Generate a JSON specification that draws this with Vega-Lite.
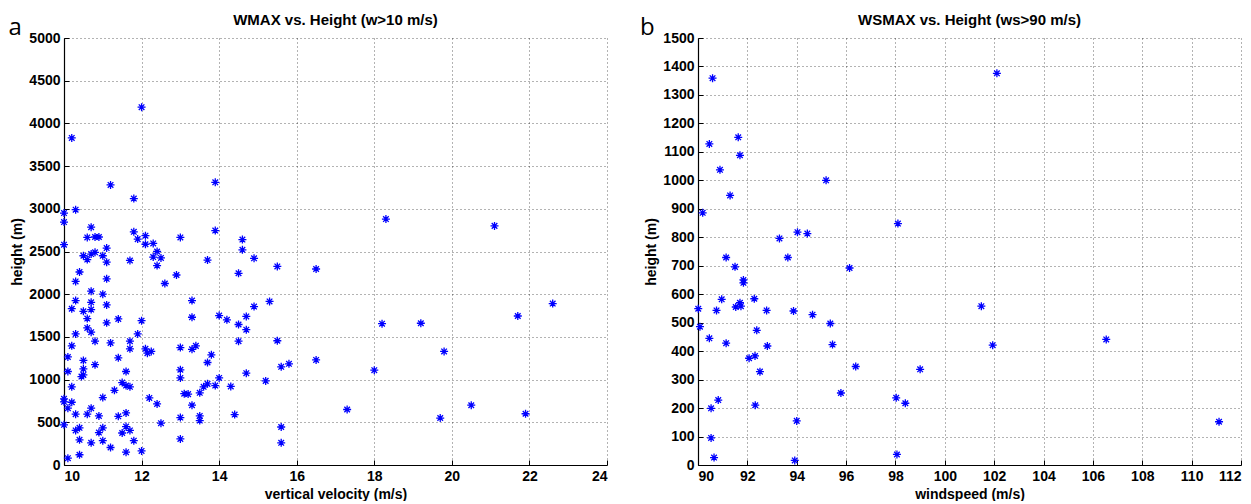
{
  "$schema": "https://vega.github.io/schema/vega-lite/v6.json",
  "background": "white",
  "padding": {"left": 8, "top": 12, "right": 2, "bottom": 0},
  "spacing": 32,
  "config": {
    "view": {"stroke": null},
    "font": "Liberation Sans",
    "axis": {
      "labelFont": "Liberation Sans",
      "labelFontWeight": "bold",
      "labelFontSize": 14,
      "labelColor": "#000",
      "labelOverlap": false,
      "format": "d",
      "titleFont": "Liberation Sans",
      "titleFontWeight": "bold",
      "titleFontSize": 14,
      "titleColor": "#000",
      "domainColor": "#000",
      "domainWidth": 1.2,
      "tickColor": "#000",
      "tickSize": -5,
      "tickCount": 30,
      "labelPadding": 9,
      "grid": true,
      "gridColor": "#000",
      "gridOpacity": 0.6,
      "gridDash": [1, 3],
      "gridWidth": 1
    },
    "title": {"font": "Liberation Sans", "fontSize": 15, "fontWeight": "bold", "color": "#000", "anchor": "middle", "offset": -12, "frame": "group"}
  },
  "datasets": {
    "wmax": [
      {"w": 12.0, "h": 4190}, {"w": 10.2, "h": 3830}, {"w": 11.2, "h": 3280}, {"w": 11.8, "h": 3120},
      {"w": 13.9, "h": 3310}, {"w": 10.3, "h": 2990}, {"w": 10.0, "h": 2950}, {"w": 10.0, "h": 2845},
      {"w": 10.7, "h": 2785}, {"w": 10.6, "h": 2665}, {"w": 10.8, "h": 2670}, {"w": 10.9, "h": 2670},
      {"w": 11.1, "h": 2540}, {"w": 10.5, "h": 2450}, {"w": 10.6, "h": 2405}, {"w": 10.7, "h": 2470},
      {"w": 10.8, "h": 2490}, {"w": 11.0, "h": 2450}, {"w": 11.1, "h": 2375}, {"w": 10.4, "h": 2260},
      {"w": 11.7, "h": 2395}, {"w": 11.8, "h": 2730}, {"w": 11.9, "h": 2645}, {"w": 12.1, "h": 2685},
      {"w": 12.1, "h": 2585}, {"w": 12.3, "h": 2595}, {"w": 12.4, "h": 2500}, {"w": 12.3, "h": 2435},
      {"w": 12.5, "h": 2425}, {"w": 12.4, "h": 2335}, {"w": 13.0, "h": 2665}, {"w": 12.9, "h": 2225},
      {"w": 13.9, "h": 2745}, {"w": 14.6, "h": 2640}, {"w": 14.6, "h": 2520}, {"w": 13.7, "h": 2400},
      {"w": 14.9, "h": 2420}, {"w": 15.5, "h": 2325}, {"w": 14.5, "h": 2245}, {"w": 16.5, "h": 2295},
      {"w": 13.3, "h": 1925}, {"w": 15.3, "h": 1915}, {"w": 14.9, "h": 1855}, {"w": 14.0, "h": 1750},
      {"w": 13.3, "h": 1730}, {"w": 14.7, "h": 1740}, {"w": 14.2, "h": 1700}, {"w": 14.5, "h": 1645},
      {"w": 14.7, "h": 1585}, {"w": 14.5, "h": 1450}, {"w": 15.5, "h": 1455}, {"w": 13.4, "h": 1395},
      {"w": 13.3, "h": 1355}, {"w": 13.8, "h": 1290}, {"w": 13.7, "h": 1200}, {"w": 15.6, "h": 1150},
      {"w": 15.8, "h": 1185}, {"w": 16.5, "h": 1230}, {"w": 14.7, "h": 1075}, {"w": 14.0, "h": 1020},
      {"w": 15.2, "h": 985}, {"w": 13.7, "h": 950}, {"w": 13.6, "h": 915}, {"w": 13.9, "h": 930},
      {"w": 14.3, "h": 920}, {"w": 13.5, "h": 845}, {"w": 13.2, "h": 830}, {"w": 13.3, "h": 700},
      {"w": 13.5, "h": 575}, {"w": 13.5, "h": 520}, {"w": 14.4, "h": 590}, {"w": 15.6, "h": 445},
      {"w": 15.6, "h": 260}, {"w": 18.3, "h": 2880}, {"w": 21.1, "h": 2800}, {"w": 18.2, "h": 1655},
      {"w": 19.2, "h": 1660}, {"w": 21.7, "h": 1745}, {"w": 22.6, "h": 1890}, {"w": 19.8, "h": 1330},
      {"w": 18.0, "h": 1110}, {"w": 17.3, "h": 650}, {"w": 19.7, "h": 550}, {"w": 20.5, "h": 700},
      {"w": 21.9, "h": 600}, {"w": 10.3, "h": 2150}, {"w": 11.1, "h": 2180}, {"w": 12.6, "h": 2125},
      {"w": 10.7, "h": 2035}, {"w": 11.0, "h": 2000}, {"w": 10.3, "h": 1925}, {"w": 10.7, "h": 1905},
      {"w": 11.1, "h": 1875}, {"w": 10.2, "h": 1830}, {"w": 10.5, "h": 1800}, {"w": 10.7, "h": 1820},
      {"w": 10.6, "h": 1715}, {"w": 11.1, "h": 1665}, {"w": 11.4, "h": 1710}, {"w": 12.0, "h": 1690},
      {"w": 10.6, "h": 1605}, {"w": 10.7, "h": 1555}, {"w": 10.3, "h": 1535}, {"w": 11.9, "h": 1535},
      {"w": 10.8, "h": 1450}, {"w": 11.2, "h": 1430}, {"w": 11.7, "h": 1450}, {"w": 11.7, "h": 1360},
      {"w": 10.2, "h": 1395}, {"w": 12.1, "h": 1360}, {"w": 12.15, "h": 1310}, {"w": 12.25, "h": 1330},
      {"w": 13.0, "h": 1375}, {"w": 10.1, "h": 1265}, {"w": 11.4, "h": 1255}, {"w": 10.5, "h": 1225},
      {"w": 10.5, "h": 1125}, {"w": 10.8, "h": 1175}, {"w": 10.1, "h": 1095}, {"w": 11.6, "h": 1095},
      {"w": 13.0, "h": 1115}, {"w": 10.5, "h": 1055}, {"w": 10.45, "h": 1035}, {"w": 13.0, "h": 1020},
      {"w": 10.2, "h": 915}, {"w": 11.5, "h": 965}, {"w": 11.6, "h": 930}, {"w": 11.7, "h": 915},
      {"w": 11.3, "h": 875}, {"w": 11.0, "h": 790}, {"w": 12.2, "h": 785}, {"w": 12.4, "h": 715},
      {"w": 13.1, "h": 835}, {"w": 10.0, "h": 775}, {"w": 10.0, "h": 740}, {"w": 10.2, "h": 735},
      {"w": 10.1, "h": 665}, {"w": 10.7, "h": 665}, {"w": 10.3, "h": 595}, {"w": 10.6, "h": 595},
      {"w": 10.9, "h": 575}, {"w": 11.4, "h": 570}, {"w": 11.6, "h": 610}, {"w": 13.0, "h": 555},
      {"w": 12.5, "h": 490}, {"w": 10.0, "h": 470}, {"w": 10.3, "h": 405}, {"w": 10.4, "h": 435},
      {"w": 10.9, "h": 380}, {"w": 11.0, "h": 435}, {"w": 11.5, "h": 375}, {"w": 11.6, "h": 450},
      {"w": 11.7, "h": 405}, {"w": 10.4, "h": 295}, {"w": 10.7, "h": 260}, {"w": 11.0, "h": 285},
      {"w": 11.8, "h": 285}, {"w": 11.2, "h": 205}, {"w": 11.6, "h": 150}, {"w": 12.0, "h": 165},
      {"w": 13.0, "h": 305}, {"w": 10.1, "h": 80}, {"w": 10.4, "h": 120}, {"w": 10.0, "h": 2580}
    ],
    "wsmax": [
      {"ws": 90.59, "h": 1359}, {"ws": 90.46, "h": 1128}, {"ws": 91.63, "h": 1151}, {"ws": 91.70, "h": 1088},
      {"ws": 90.89, "h": 1037}, {"ws": 91.30, "h": 947}, {"ws": 95.19, "h": 1000}, {"ws": 90.19, "h": 886},
      {"ws": 93.30, "h": 796}, {"ws": 94.03, "h": 818}, {"ws": 94.43, "h": 813}, {"ws": 91.14, "h": 729},
      {"ws": 93.64, "h": 729}, {"ws": 91.50, "h": 696}, {"ws": 91.84, "h": 650}, {"ws": 91.84, "h": 640},
      {"ws": 90.01, "h": 549}, {"ws": 90.96, "h": 582}, {"ws": 90.75, "h": 543}, {"ws": 91.53, "h": 555},
      {"ws": 91.70, "h": 570}, {"ws": 91.74, "h": 558}, {"ws": 92.28, "h": 584}, {"ws": 92.78, "h": 543},
      {"ws": 93.87, "h": 541}, {"ws": 94.64, "h": 528}, {"ws": 95.36, "h": 497}, {"ws": 90.08, "h": 486},
      {"ws": 90.46, "h": 445}, {"ws": 91.14, "h": 428}, {"ws": 92.38, "h": 473}, {"ws": 92.81, "h": 418},
      {"ws": 92.07, "h": 375}, {"ws": 92.31, "h": 383}, {"ws": 92.51, "h": 328}, {"ws": 95.45, "h": 423},
      {"ws": 90.82, "h": 228}, {"ws": 90.53, "h": 199}, {"ws": 92.32, "h": 210}, {"ws": 94.0, "h": 155},
      {"ws": 90.53, "h": 95}, {"ws": 90.65, "h": 26}, {"ws": 93.92, "h": 16}, {"ws": 96.14, "h": 692},
      {"ws": 96.39, "h": 346}, {"ws": 95.79, "h": 253}, {"ws": 102.11, "h": 1376}, {"ws": 98.10, "h": 848},
      {"ws": 101.48, "h": 558}, {"ws": 106.54, "h": 441}, {"ws": 101.94, "h": 421}, {"ws": 99.0, "h": 336},
      {"ws": 98.03, "h": 236}, {"ws": 98.40, "h": 217}, {"ws": 111.11, "h": 152}, {"ws": 98.06, "h": 37}
    ]
  },
  "hconcat": [
    {
      "width": 543,
      "height": 427,
      "title": "WMAX vs. Height (w>10 m/s)",
      "layer": [
        {
          "data": {"name": "wmax"},
          "mark": {"type": "point", "shape": "M-1,0L1,0M0,-1L0,1M-0.7,-0.7L0.7,0.7M-0.7,0.7L0.7,-0.7", "stroke": "#0000ff", "strokeWidth": 1.3, "size": 64, "filled": false, "opacity": 1},
          "encoding": {
            "x": {"field": "w", "type": "quantitative", "title": "vertical velocity (m/s)", "scale": {"domain": [10, 24], "nice": false, "zero": false}, "axis": {"values": [10, 12, 14, 16, 18, 20, 22, 24], "titlePadding": 4}},
            "y": {"field": "h", "type": "quantitative", "title": "height (m)", "scale": {"domain": [0, 5000], "nice": false}, "axis": {"values": [0, 500, 1000, 1500, 2000, 2500, 3000, 3500, 4000, 4500, 5000], "titlePadding": 4}}
          }
        },
        {
          "data": {"values": [{"lab": "a", "px": 8.74, "py": 5120}]},
          "mark": {"type": "text", "font": "Open Sans", "fontSize": 24, "fill": "#000", "align": "center", "baseline": "middle", "clip": false},
          "encoding": {
            "text": {"field": "lab"},
            "x": {"field": "px", "type": "quantitative"},
            "y": {"field": "py", "type": "quantitative"}
          }
        }
      ]
    },
    {
      "width": 543,
      "height": 427,
      "title": "WSMAX vs. Height (ws>90 m/s)",
      "layer": [
        {
          "data": {"name": "wsmax"},
          "mark": {"type": "point", "shape": "M-1,0L1,0M0,-1L0,1M-0.7,-0.7L0.7,0.7M-0.7,0.7L0.7,-0.7", "stroke": "#0000ff", "strokeWidth": 1.3, "size": 64, "filled": false, "opacity": 1},
          "encoding": {
            "x": {"field": "ws", "type": "quantitative", "title": "windspeed (m/s)", "scale": {"domain": [90, 112], "nice": false, "zero": false}, "axis": {"values": [90, 92, 94, 96, 98, 100, 102, 104, 106, 108, 110, 112], "titlePadding": 4}},
            "y": {"field": "h", "type": "quantitative", "title": "height (m)", "scale": {"domain": [0, 1500], "nice": false}, "axis": {"values": [0, 100, 200, 300, 400, 500, 600, 700, 800, 900, 1000, 1100, 1200, 1300, 1400, 1500], "titlePadding": 4}}
          }
        },
        {
          "data": {"values": [{"lab": "b", "px": 87.95, "py": 1536}]},
          "mark": {"type": "text", "font": "Open Sans", "fontSize": 24, "fill": "#000", "align": "center", "baseline": "middle", "clip": false},
          "encoding": {
            "text": {"field": "lab"},
            "x": {"field": "px", "type": "quantitative"},
            "y": {"field": "py", "type": "quantitative"}
          }
        }
      ]
    }
  ]
}
